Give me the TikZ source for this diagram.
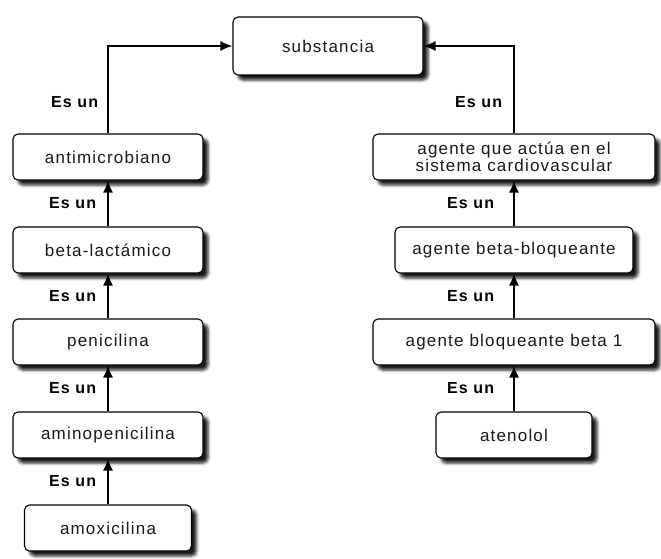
\documentclass[tikz,border=0pt]{standalone}
\usepackage{fontspec}
\setmainfont{Liberation Sans}
\newfontfamily\boxfont[LetterSpace=7]{Liberation Sans}
\newfontfamily\relfont[LetterSpace=7]{Liberation Sans}
\usetikzlibrary{arrows.meta,shadows.blur}

\begin{document}
\begin{tikzpicture}[x=1pt,y=-1pt,
  concept/.style={draw, line width=1.1pt, rounded corners=5pt, fill=white,
    minimum height=46pt, inner sep=0pt, text=black!90, align=center,
    font=\boxfont\fontsize{17}{16.5}\selectfont,
    blur shadow={shadow xshift=5pt, shadow yshift=-5pt, shadow blur radius=3pt,
      shadow opacity=90}},
  isa/.style={line width=1.8pt, -{Latex[length=12pt,width=10pt]}},
  rel/.style={inner sep=0pt, font=\relfont\bfseries\fontsize{16}{18}\selectfont}]
  \useasboundingbox (0,0) rectangle (661,559);

  \node[concept, minimum width=190pt, minimum height=58pt] (subs) at (328,46) {substancia};

  % left branch
  \node[concept, minimum width=190pt] (anti)  at (108,157) {antimicrobiano};
  \node[concept, minimum width=190pt] (beta)  at (108,250) {beta-lact\'amico};
  \node[concept, minimum width=190pt] (peni)  at (108,342) {penicilina};
  \node[concept, minimum width=190pt] (amino) at (108,435) {aminopenicilina};
  \node[concept, minimum width=167pt] (amox)  at (108,528) {amoxicilina};

  % right branch
  \node[concept, minimum width=282pt] (cardio) at (514,157) {agente que act\'ua en el\\sistema cardiovascular};
  \node[concept, minimum width=238pt] (bbloq)  at (514,250) {agente beta-bloqueante};
  \node[concept, minimum width=282pt] (beta1)  at (514,342) {agente bloqueante beta 1};
  \node[concept, minimum width=156pt] (aten)   at (514,435) {atenolol};

  \draw[isa] (anti) |- node[rel, pos=0.18, left=9pt] {Es un} (subs);
  \draw[isa] (cardio) |- node[rel, pos=0.18, left=11pt] {Es un} (subs);

  \foreach \a/\b in {beta/anti, peni/beta, amino/peni, amox/amino}
    \draw[isa] (\b.south |- \a.north) -- node[rel, left=11pt] {Es un} (\b);
  \foreach \a/\b in {bbloq/cardio, beta1/bbloq, aten/beta1}
    \draw[isa] (\b.south |- \a.north) -- node[rel, left=19pt] {Es un} (\b);
\end{tikzpicture}
\end{document}
